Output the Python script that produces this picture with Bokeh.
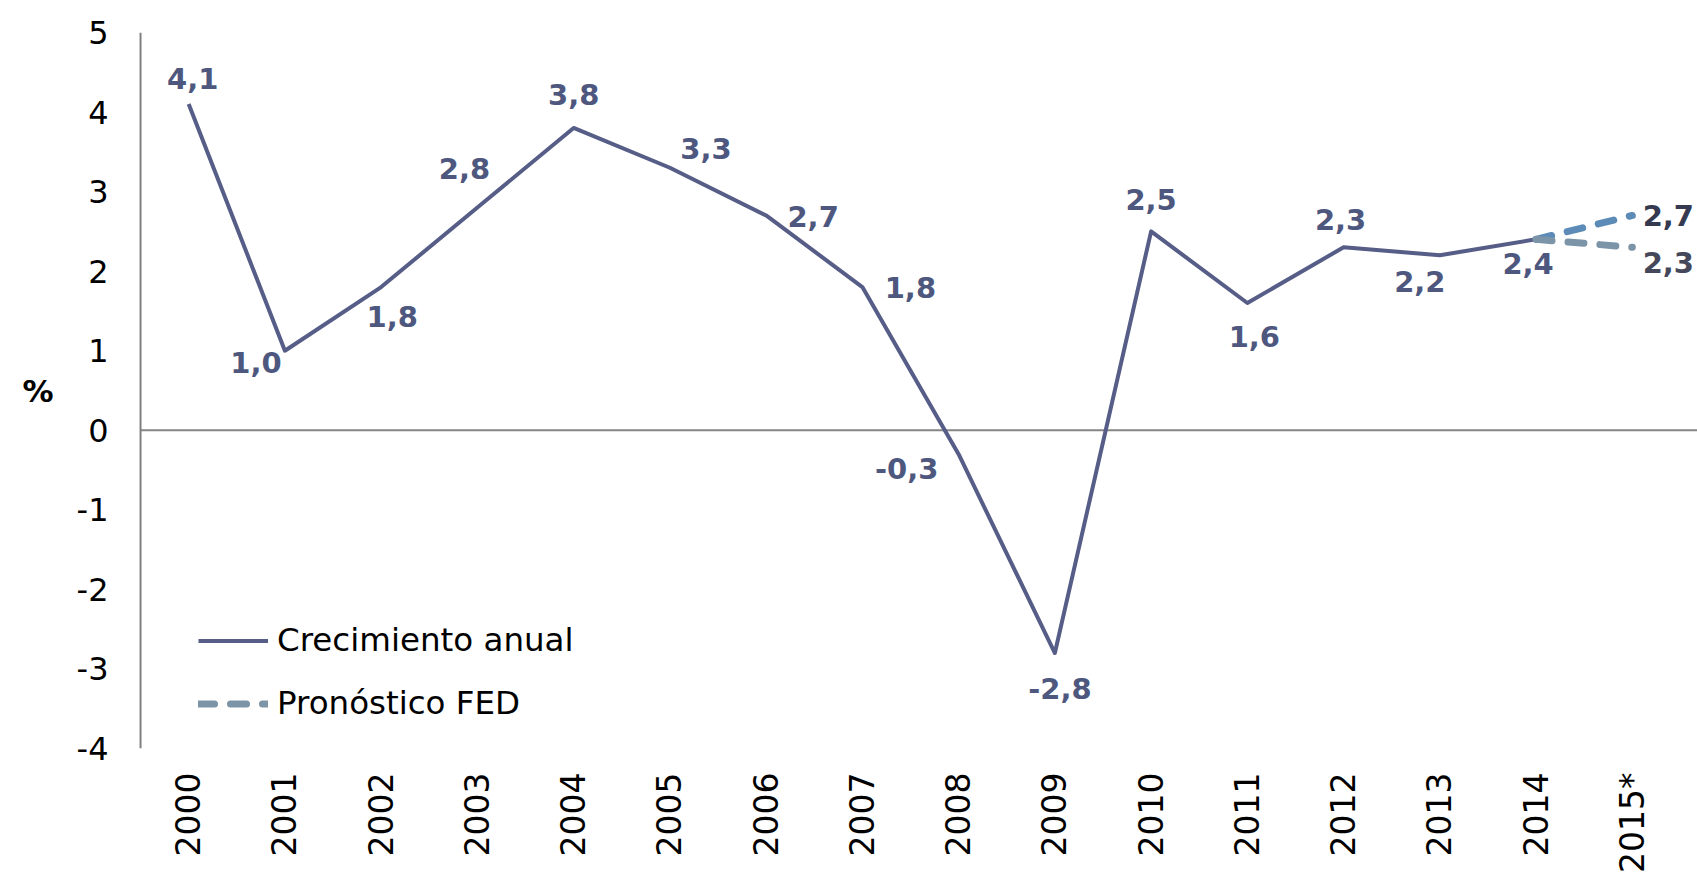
import math
from bokeh.plotting import figure
from bokeh.models import (ColumnDataSource, FactorRange, Range1d, Span, Legend,
                          LegendItem, FixedTicker)
from bokeh.core.properties import value
from bokeh.embed import file_html
from bokeh.resources import INLINE

# ---- data ----
years = ["2000", "2001", "2002", "2003", "2004", "2005", "2006", "2007",
         "2008", "2009", "2010", "2011", "2012", "2013", "2014", "2015*"]
growth_years = years[:15]
growth = [4.1, 1.0, 1.8, 2.8, 3.8, 3.3, 2.7, 1.8, -0.3, -2.8, 2.5, 1.6, 2.3, 2.2, 2.4]
forecast_years = ["2014", "2015*"]
fed_high = [2.4, 2.7]
fed_low = [2.4, 2.3]
y_ticks = [-4, -3, -2, -1, 0, 1, 2, 3, 4, 5]

def fmt(v):
    return ("%.1f" % v).replace(".", ",")

# label offsets (screen px, layout only)
label_dx = [4, -29, 11, -13, 0, 36, 47, 48, -52, 5, 0, 7, -3, -20, -8]
label_dy = [-26, 12, 29, -39, -33, -19, 1, 0, 14, 35, -32, 34, -28, 26, 24]

FONT = "DejaVu Sans"
LINE = "#565d87"
LBL = "#4e587f"
PAD = 0.177  # category units of padding at each side of the frame

p = figure(width=1697, height=875, output_backend="svg", toolbar_location=None,
           x_range=FactorRange(factors=years, range_padding=PAD,
                               range_padding_units="absolute"),
           y_range=Range1d(-4, 5))
p.min_border_left = 123
p.min_border_right = 0
p.min_border_top = 32
p.min_border_bottom = 127
p.outline_line_color = None
p.background_fill_color = "white"
p.border_fill_color = "white"
p.xgrid.grid_line_color = None
p.ygrid.grid_line_color = None

# axes
yax = p.yaxis[0]
yax.ticker = FixedTicker(ticks=y_ticks)
yax.major_label_overrides = {t: str(t) for t in y_ticks}
yax.axis_line_color = None
yax.major_tick_line_color = None
yax.minor_tick_line_color = None
yax.major_tick_out = 0
yax.major_label_standoff = 15
yax.major_label_text_font = FONT
yax.major_label_text_font_size = "32px"
yax.major_label_text_color = "black"
yax.axis_label = "%"
yax.axis_label_orientation = "horizontal"
yax.axis_label_text_font = FONT
yax.axis_label_text_font_size = "31px"
yax.axis_label_text_font_style = "bold"
yax.axis_label_text_color = "black"
yax.axis_label_standoff = 20

xax = p.xaxis[0]
xax.axis_line_color = None
xax.major_tick_line_color = None
xax.minor_tick_line_color = None
xax.major_tick_out = 0
xax.major_label_standoff = 24
xax.major_label_orientation = math.pi / 2
xax.major_label_text_font = FONT
xax.major_label_text_font_size = "33px"
xax.major_label_text_color = "black"

# value axis line at the left edge of the first category, zero baseline
p.add_layout(Span(location=0, dimension="height", line_color="#808080", line_width=2))
p.segment(x0=0, x1=len(years) + PAD, y0=0, y1=0, line_color="#858585", line_width=2)

# lines
src = ColumnDataSource(dict(x=growth_years, y=growth, lbl=[fmt(v) for v in growth],
                            dx=label_dx, dy=label_dy))
r_main = p.line("x", "y", source=src, line_color=LINE, line_width=4, line_join="round")

r_high = p.line(forecast_years, fed_high, line_color="#5b8bb6", line_width=7,
                line_dash="16 16", line_cap="round")
r_low = p.line(forecast_years, fed_low, line_color="#7c94a8", line_width=7,
               line_dash="16 16", line_cap="round")

p.text("x", "y", text="lbl", source=src, x_offset="dx", y_offset="dy",
       text_align="center", text_baseline="middle", text_font=value(FONT),
       text_font_style="bold", text_font_size="29px", text_color=LBL)

fsrc = ColumnDataSource(dict(x=[forecast_years[1], forecast_years[1]],
                             y=[fed_high[1], fed_low[1]],
                             lbl=[fmt(fed_high[1]), fmt(fed_low[1])],
                             dy=[0, 15], col=["#353a50", "#45485b"]))
p.text("x", "y", text="lbl", source=fsrc, x_offset=36, y_offset="dy",
       text_align="center", text_baseline="middle", text_font=value(FONT),
       text_font_style="bold", text_font_size="29px", text_color="col")

legend = Legend(items=[LegendItem(label="Crecimiento anual", renderers=[r_main]),
                       LegendItem(label="Pronóstico FED", renderers=[r_low])],
                location=(75, 26), orientation="vertical")
legend.background_fill_alpha = 0
legend.border_line_color = None
legend.label_text_font = FONT
legend.label_text_font_size = "32.5px"
legend.label_text_color = "black"
legend.glyph_width = 70
legend.glyph_height = 37
legend.label_height = 37
legend.label_standoff = 9
legend.spacing = 25
legend.padding = 0
legend.margin = 0
p.add_layout(legend)

open("out.html", "w").write(file_html(p, INLINE))
